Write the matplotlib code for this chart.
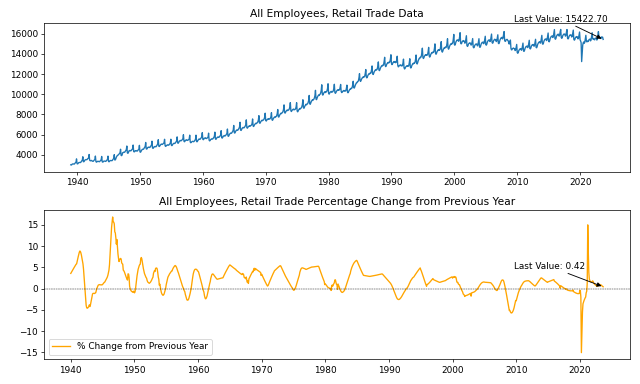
import matplotlib
matplotlib.use("Agg")
import matplotlib.pyplot as plt
import pandas as pd

# All employees, retail trade (thousands), monthly, Jan 1939 - Sep 2023
emp_1930s = [
    3024, 2998, 3036, 3104, 3110, 3116, 3093, 3106, 3181, 3241, 3300, 3613,
]
emp_1940s = [
    3132, 3112, 3157, 3236, 3248, 3261, 3244, 3264, 3350, 3420, 3489, 3823,
    3333, 3328, 3393, 3494, 3524, 3549, 3529, 3539, 3615, 3668, 3717, 4045,
    3486, 3421, 3426, 3465, 3435, 3410, 3370, 3375, 3450, 3507, 3559, 3890,
    3338, 3289, 3313, 3371, 3366, 3366, 3332, 3337, 3410, 3466, 3522, 3851,
    3322, 3288, 3322, 3391, 3394, 3396, 3363, 3367, 3440, 3496, 3553, 3884,
    3355, 3325, 3365, 3440, 3445, 3455, 3430, 3440, 3525, 3592, 3665, 4028,
    3501, 3512, 3621, 3780, 3860, 3955, 3971, 4020, 4080, 4154, 4224, 4566,
    3960, 3930, 4000, 4217, 4237, 4279, 4256, 4276, 4360, 4444, 4524, 4883,
    4200, 4160, 4230, 4400, 4415, 4448, 4408, 4413, 4485, 4557, 4624, 4981,
    4346, 4302, 4341, 4425, 4415, 4433, 4383, 4383, 4450, 4517, 4589, 4951,
]
emp_1950s = [
    4302, 4266, 4332, 4464, 4504, 4567, 4551, 4581, 4670, 4759, 4848, 5235,
    4606, 4578, 4636, 4742, 4752, 4781, 4738, 4743, 4820, 4897, 4974, 5363,
    4694, 4650, 4704, 4806, 4811, 4846, 4807, 4822, 4910, 5003, 5096, 5507,
    4864, 4833, 4904, 5000, 5040, 5080, 5040, 5045, 5095, 5140, 5206, 5550,
    4914, 4844, 4884, 4950, 4975, 5005, 4960, 4970, 5030, 5095, 5186, 5557,
    4960, 4919, 4985, 5078, 5119, 5160, 5128, 5148, 5220, 5297, 5400, 5787,
    5184, 5155, 5234, 5341, 5393, 5440, 5401, 5411, 5470, 5529, 5616, 6000,
    5353, 5303, 5363, 5450, 5478, 5505, 5445, 5435, 5480, 5520, 5587, 5957,
    5280, 5206, 5240, 5306, 5328, 5355, 5306, 5316, 5385, 5454, 5555, 5957,
    5330, 5300, 5380, 5489, 5537, 5585, 5544, 5559, 5630, 5701, 5800, 6205,
]
emp_1960s = [
    5548, 5506, 5568, 5653, 5677, 5700, 5633, 5618, 5660, 5702, 5772, 6155,
    5459, 5388, 5434, 5519, 5557, 5600, 5564, 5584, 5660, 5736, 5841, 6255,
    5590, 5542, 5611, 5708, 5748, 5787, 5740, 5750, 5819, 5887, 5985, 6400,
    5712, 5665, 5737, 5839, 5881, 5924, 5877, 5890, 5962, 6034, 6135, 6563,
    5875, 5841, 5930, 6050, 6108, 6166, 6132, 6159, 6248, 6337, 6458, 6917,
    6203, 6161, 6248, 6368, 6424, 6479, 6436, 6459, 6547, 6635, 6754, 7232,
    6472, 6421, 6507, 6625, 6675, 6727, 6677, 6694, 6778, 6863, 6981, 7470,
    6702, 6643, 6722, 6801, 6846, 6890, 6831, 6876, 6910, 6964, 7112, 7560,
    6857, 6812, 6912, 7010, 7073, 7136, 7092, 7155, 7182, 7281, 7452, 7886,
    7181, 7128, 7225, 7320, 7380, 7439, 7386, 7446, 7467, 7563, 7734, 8129,
]
emp_1970s = [
    7423, 7350, 7429, 7508, 7549, 7590, 7517, 7558, 7561, 7640, 7795, 8177,
    7475, 7422, 7526, 7628, 7693, 7757, 7705, 7769, 7795, 7898, 8079, 8493,
    7787, 7741, 7858, 7975, 8051, 8127, 8082, 8157, 8193, 8310, 8509, 8951,
    8201, 8131, 8232, 8331, 8390, 8447, 8378, 8436, 8452, 8551, 8736, 9174,
    8379, 8292, 8375, 8459, 8499, 8540, 8453, 8493, 8491, 8575, 8744, 9169,
    8347, 8261, 8352, 8454, 8522, 8595, 8544, 8622, 8657, 8778, 8986, 9458,
    8669, 8612, 8734, 8858, 8936, 9014, 8956, 9034, 9067, 9190, 9403, 9887,
    9061, 9005, 9139, 9272, 9359, 9445, 9390, 9477, 9516, 9649, 9878, 10390,
    9521, 9464, 9606, 9748, 9841, 9934, 9876, 9969, 10012, 10154, 10396, 10937,
    10005, 9912, 10025, 10137, 10199, 10260, 10167, 10229, 10239, 10351, 10567, 11039,
]
emp_1980s = [
    10114, 10006, 10104, 10197, 10243, 10290, 10187, 10243, 10248, 10357, 10568, 10990,
    10174, 10090, 10162, 10286, 10358, 10430, 10393, 10455, 10408, 10460, 10663, 10971,
    10284, 10165, 10202, 10291, 10333, 10375, 10318, 10365, 10313, 10370, 10583, 10904,
    10237, 10146, 10219, 10349, 10432, 10515, 10497, 10590, 10577, 10670, 10926, 11288,
    10663, 10610, 10725, 10895, 11010, 11125, 11128, 11243, 11246, 11361, 11643, 12038,
    11355, 11268, 11356, 11503, 11592, 11680, 11652, 11740, 11712, 11800, 12064, 12445,
    11709, 11617, 11705, 11855, 11943, 12031, 11999, 12087, 12056, 12144, 12413, 12802,
    12044, 11952, 12046, 12201, 12295, 12389, 12359, 12453, 12423, 12516, 12796, 13200,
    12423, 12331, 12432, 12596, 12697, 12797, 12769, 12870, 12842, 12942, 13235, 13656,
    12843, 12730, 12815, 12966, 13050, 13135, 13089, 13174, 13127, 13212, 13494, 13907,
]
emp_1990s = [
    13057, 12928, 12996, 13128, 13189, 13245, 13164, 13210, 13119, 13160, 13394, 13761,
    12876, 12712, 12742, 12836, 12870, 12910, 12825, 12870, 12790, 12845, 13093, 13475,
    12633, 12499, 12558, 12682, 12746, 12810, 12751, 12820, 12766, 12840, 13112, 13512,
    12694, 12594, 12691, 12852, 12949, 13045, 13010, 13106, 13072, 13168, 13460, 13883,
    13071, 12990, 13113, 13304, 13427, 13550, 13537, 13660, 13647, 13770, 14097, 14559,
    13651, 13532, 13617, 13766, 13842, 13918, 13852, 13926, 13860, 13934, 14216, 14637,
    13788, 13671, 13767, 13934, 14029, 14125, 14079, 14175, 14129, 14225, 14533, 14982,
    14079, 13952, 14042, 14203, 14292, 14381, 14327, 14416, 14361, 14451, 14756, 15204,
    14286, 14162, 14258, 14429, 14525, 14621, 14571, 14667, 14617, 14714, 15030, 15492,
    14575, 14459, 14567, 14751, 14859, 14968, 14927, 15035, 14994, 15102, 15436, 15919,
]
emp_2000s = [
    14932, 14847, 14954, 15170, 15267, 15358, 15335, 15383, 15235, 15317, 15661, 16090,
    15073, 14982, 15038, 15209, 15260, 15311, 15248, 15261, 15046, 15102, 15425, 15790,
    14822, 14732, 14792, 14965, 15025, 15085, 15033, 15055, 14857, 14922, 15250, 15508,
    14674, 14590, 14654, 14830, 14898, 14968, 14927, 14967, 14786, 14871, 15218, 15494,
    14691, 14636, 14730, 14939, 15033, 15128, 15110, 15167, 14998, 15093, 15451, 15735,
    14913, 14854, 14949, 15159, 15253, 15347, 15327, 15383, 15210, 15306, 15668, 15953,
    15116, 15040, 15116, 15303, 15375, 15442, 15388, 15412, 15205, 15272, 15612, 15881,
    15049, 15001, 15114, 15342, 15455, 15568, 15564, 15638, 15474, 15571, 15930, 16201,
    15333, 15226, 15263, 15404, 15420, 15426, 15318, 15276, 14995, 14972, 15205, 15363,
    14546, 14394, 14396, 14517, 14540, 14573, 14506, 14518, 14316, 14374, 14685, 14929,
]
emp_2010s = [
    14127, 14050, 14122, 14308, 14390, 14477, 14456, 14512, 14352, 14444, 14789, 15061,
    14288, 14237, 14333, 14539, 14634, 14729, 14716, 14774, 14613, 14709, 15061, 15340,
    14545, 14481, 14565, 14758, 14838, 14917, 14885, 14926, 14746, 14826, 15167, 15437,
    14636, 14594, 14701, 14923, 15031, 15139, 15134, 15204, 15049, 15157, 15529, 15826,
    15001, 14943, 15039, 15250, 15346, 15442, 15422, 15480, 15307, 15403, 15768, 16057,
    15236, 15185, 15291, 15514, 15619, 15724, 15713, 15779, 15611, 15716, 16096, 16397,
    15503, 15439, 15533, 15743, 15833, 15922, 15892, 15939, 15748, 15833, 16195, 16410,
    15607, 15528, 15606, 15803, 15880, 15956, 15913, 15947, 15743, 15815, 16164, 16400,
    15556, 15470, 15542, 15732, 15804, 15876, 15829, 15862, 15658, 15730, 16078, 16347,
    15446, 15348, 15406, 15582, 15645, 15708, 15654, 15678, 15473, 15541, 15888, 16156,
]
emp_2020s = [
    15384, 15271, 15098, 13230, 14002, 14844, 15090, 15176, 15040, 15152, 15538, 15833,
    15230, 15179, 15279, 15215, 15234, 15408, 15422, 15464, 15281, 15394, 15787, 16086,
    15504, 15437, 15493, 15398, 15386, 15547, 15545, 15572, 15358.2, 15486, 15882, 16199,
    15659, 15591, 15632, 15537, 15509, 15671, 15638, 15650, 15422.7,
]

values = (emp_1930s + emp_1940s + emp_1950s + emp_1960s + emp_1970s
          + emp_1980s + emp_1990s + emp_2000s + emp_2010s + emp_2020s)
dates = pd.date_range("1939-01-01", periods=len(values), freq="MS")
emp = pd.Series(values, index=dates, dtype=float)
pct = (emp.pct_change(12) * 100).dropna()

fig, (ax1, ax2) = plt.subplots(2, 1, figsize=(10, 6), dpi=64)
fig.subplots_adjust(left=0.069, right=0.984, top=0.941, bottom=0.064, hspace=0.257)

ax1.plot(emp.index, emp.values, color="#1f77b4")
ax1.set_title("All Employees, Retail Trade Data")
ax1.annotate(f"Last Value: {emp.iloc[-1]:.2f}",
             xy=(emp.index[-1], emp.iloc[-1]), xytext=(-100, 20),
             textcoords="offset points",
             arrowprops=dict(arrowstyle="-|>", color="black"))

ax2.plot(pct.index, pct.values, color="orange", label="% Change from Previous Year")
ax2.axhline(0, color="black", linestyle="--", linewidth=0.5)
ax2.set_title("All Employees, Retail Trade Percentage Change from Previous Year")
ax2.legend(loc="lower left")
ax2.annotate(f"Last Value: {pct.iloc[-1]:.2f}",
             xy=(pct.index[-1], pct.iloc[-1]), xytext=(-100, 20),
             textcoords="offset points",
             arrowprops=dict(arrowstyle="-|>", color="black"))

fig.savefig("out.png", dpi=64)
